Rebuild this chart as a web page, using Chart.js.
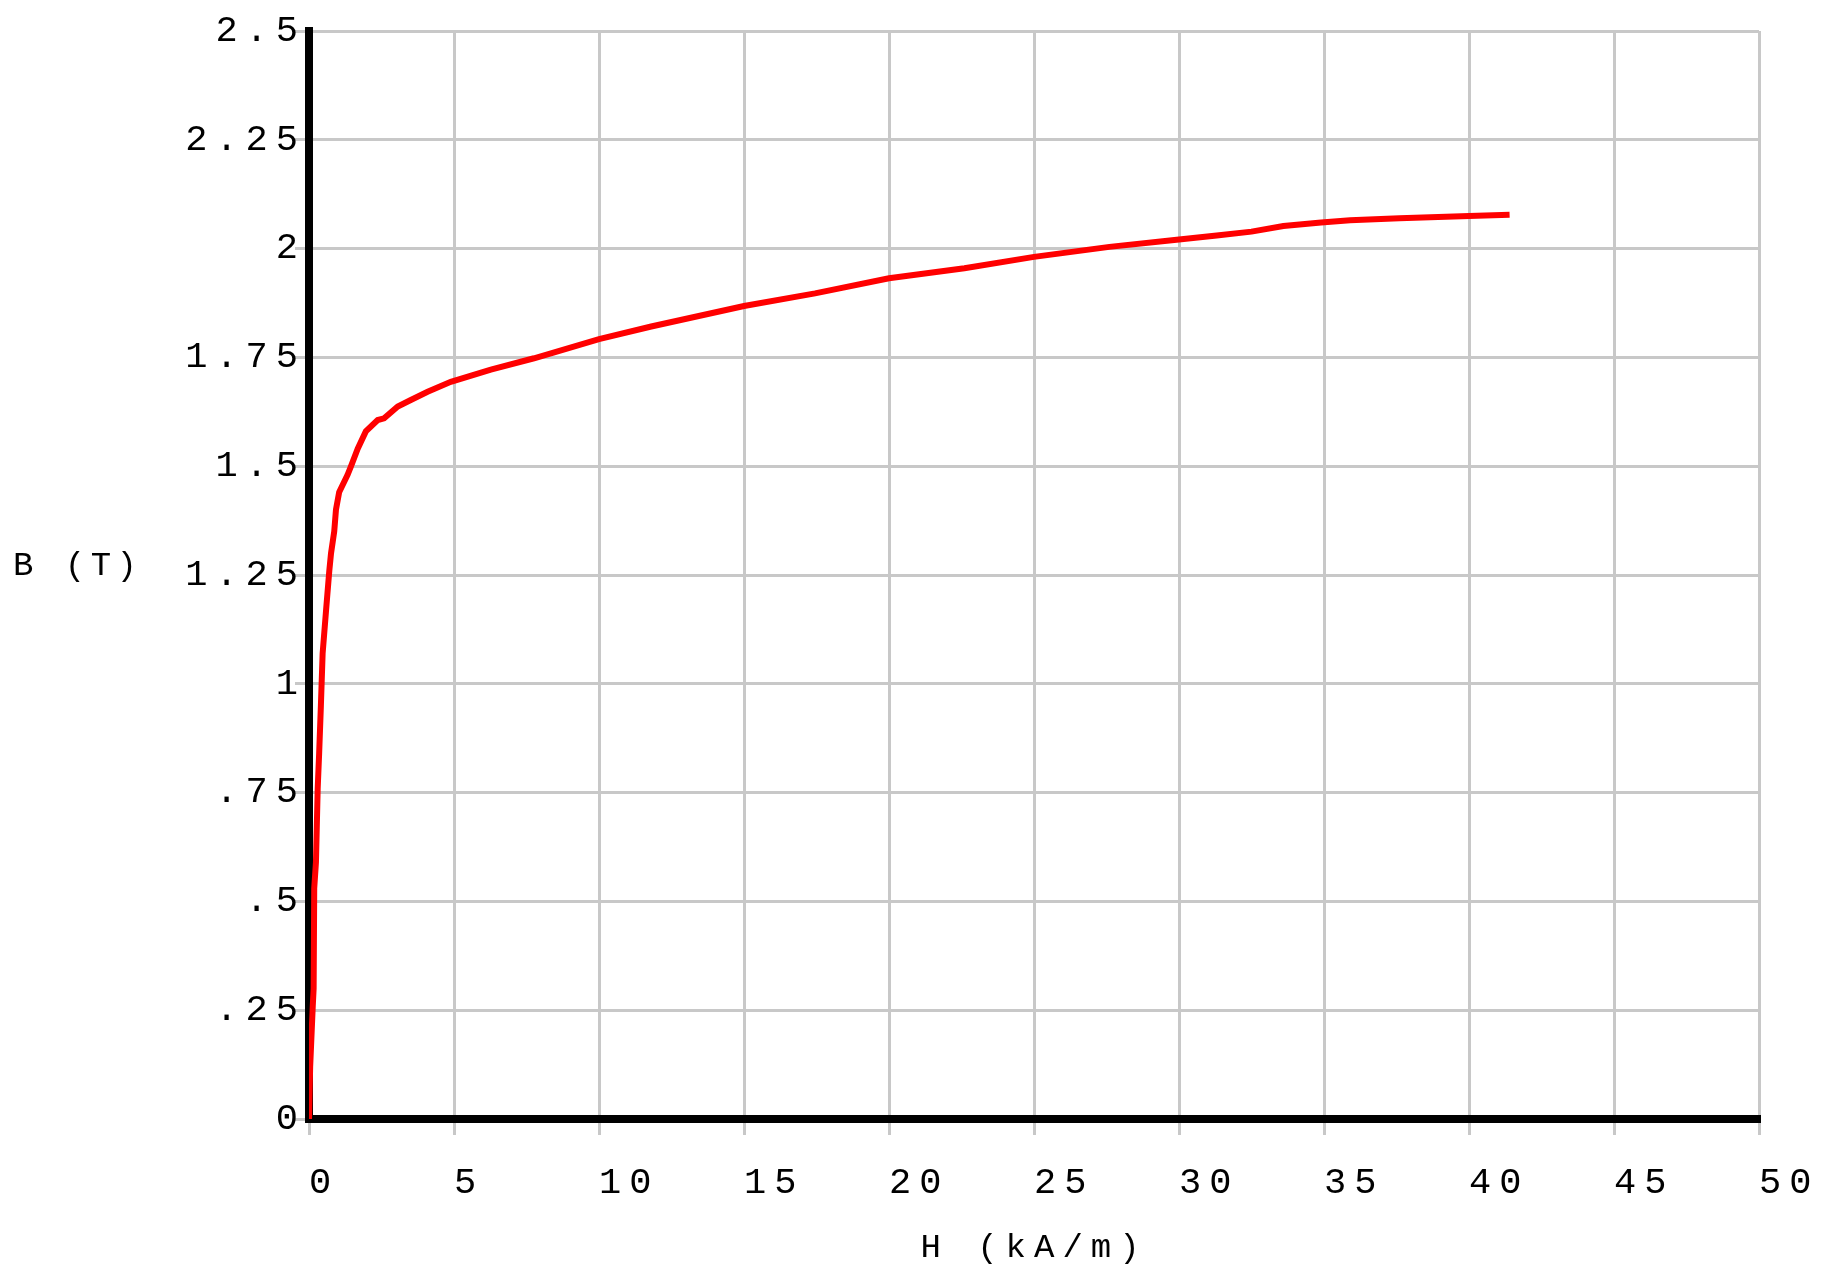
<!DOCTYPE html>
<html>
<head>
    <script src="https://cdn.jsdelivr.net/npm/chart.js"></script>
    <style>
        body { margin: 0; background: #fff; }
        #holder { position: relative; width: 1827px; height: 1274px; }
        #ytitle {
            position: absolute; left: 13px; top: 549px;
            font-family: "Liberation Mono", monospace; font-size: 34px; line-height: 34px;
            letter-spacing: 5.5px; color: #000; white-space: pre;
        }
    </style>
</head>
<body>
<div id="holder">
    <canvas id="bhChart"></canvas>
    <div id="ytitle">B (T)</div>
</div>
<script>
    // magnetisation curve, H in kA/m, B in T
    const hValues = [0, 0.04, 0.13, 0.16, 0.18, 0.24, 0.30, 0.35, 0.41, 0.47, 0.59, 0.70, 0.76, 0.87, 0.93, 1.04,
        1.33, 1.45, 1.68, 1.96, 2.37, 2.59, 3.06, 3.51, 4.09, 4.89, 6.27, 7.76, 10.0, 11.8, 15.0, 17.45,
        20.0, 22.6, 25.0, 27.6, 30.0, 31.3, 32.5, 33.6, 34.9, 35.9, 37.6, 40.0, 41.4];
    const bValues = [0, 0.12, 0.26, 0.30, 0.53, 0.59, 0.76, 0.84, 0.95, 1.07, 1.17, 1.26, 1.30, 1.35, 1.40, 1.44,
        1.48, 1.50, 1.54, 1.58, 1.606, 1.61, 1.637, 1.652, 1.671, 1.694, 1.722, 1.748, 1.792, 1.821, 1.868, 1.897,
        1.932, 1.955, 1.981, 2.004, 2.021, 2.030, 2.039, 2.052, 2.060, 2.065, 2.070, 2.075, 2.078];
    const xTicks = [0, 5, 10, 15, 20, 25, 30, 35, 40, 45, 50];
    const yTicks = [0, 0.25, 0.5, 0.75, 1, 1.25, 1.5, 1.75, 2, 2.25, 2.5];
    const xTitle = 'H (kA/m)';

    const points = hValues.map((h, i) => ({ x: h, y: bValues[i] }));
    const tickFont = { family: 'Liberation Mono', size: 37 };

    // wide letter spacing like the original plot
    const spacing = {
        id: 'spacing',
        beforeUpdate(chart) { chart.ctx.letterSpacing = '8px'; },
        beforeDraw(chart) { chart.ctx.letterSpacing = '8px'; }
    };

    new Chart(document.getElementById('bhChart'), {
        type: 'scatter',
        data: {
            datasets: [{
                data: points,
                showLine: true,
                borderColor: '#ff0000',
                borderWidth: 6,
                pointRadius: 0,
                tension: 0
            }]
        },
        options: {
            responsive: true,
            maintainAspectRatio: false,
            animation: false,
            layout: { padding: { top: 31, right: 68, left: 0, bottom: 0 } },
            plugins: { legend: { display: false }, tooltip: { enabled: false } },
            scales: {
                x: {
                    min: 0, max: 50,
                    afterBuildTicks: s => { s.ticks = xTicks.map(v => ({ value: v })); },
                    afterFit: s => { s.height = 155; s.paddingLeft = 0; s.paddingRight = 0; },
                    grid: { color: '#c8c8c8', lineWidth: 3, tickLength: 16 },
                    border: { color: '#000', width: 8 },
                    ticks: { font: tickFont, color: '#000', align: 'start', padding: 26, maxRotation: 0 },
                    title: {
                        display: true, text: xTitle, color: '#000',
                        font: { family: 'Liberation Mono', size: 34 }, padding: { top: 0, bottom: 6 }
                    }
                },
                y: {
                    min: 0, max: 2.5,
                    afterBuildTicks: s => { s.ticks = yTicks.map(v => ({ value: v })); },
                    afterFit: s => { s.width = 309; s.paddingTop = 0; s.paddingBottom = 0; },
                    grid: { color: '#c8c8c8', lineWidth: 3, tickLength: 14 },
                    border: { color: '#000', width: 8 },
                    ticks: {
                        font: tickFont, color: '#000', padding: -11,
                        callback: v => String(v).replace(/^0\./, '.')
                    }
                }
            }
        },
        plugins: [spacing]
    });
</script>
</body>
</html>
